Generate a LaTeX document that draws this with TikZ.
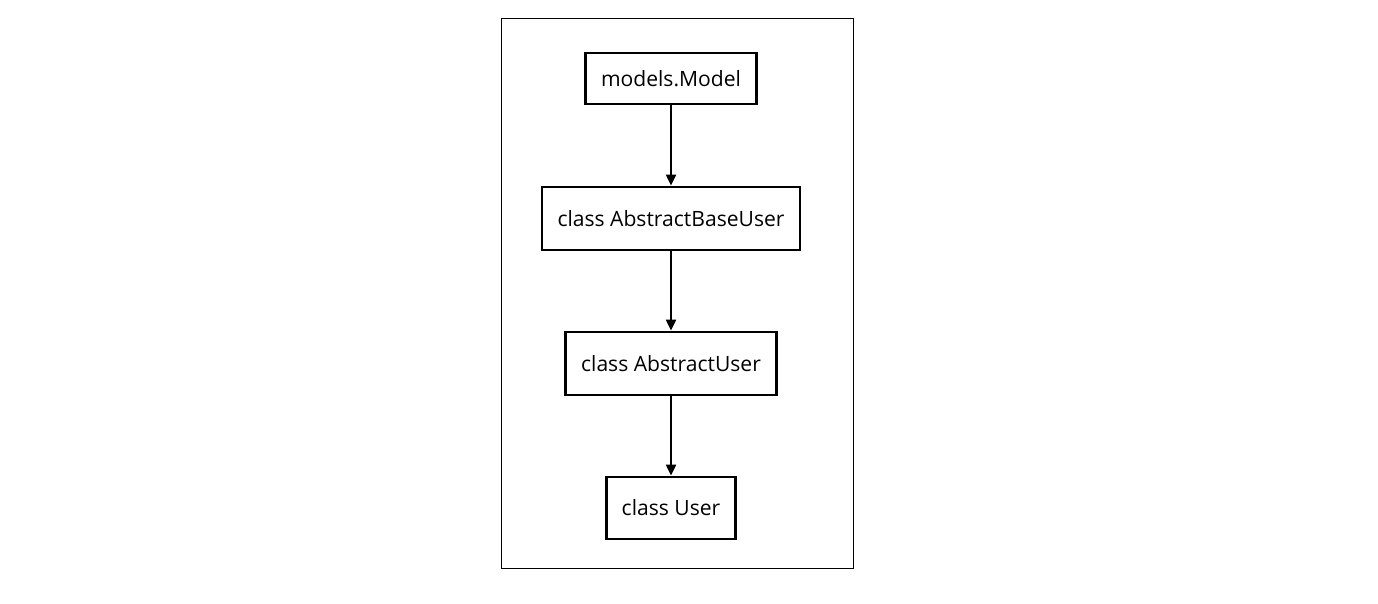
\documentclass[tikz,border=0pt]{standalone}
\usepackage{fontspec}
\setmainfont{Open Sans}
\usetikzlibrary{arrows.meta}
\tikzset{
    classbox/.style={draw, line width=1.6pt, inner sep=0pt, font=\fontsize{12}{14}\selectfont},
}
\begin{document}
\begin{tikzpicture}[>={Triangle[length=2.2mm,width=2mm]}]
                \useasboundingbox (0,0) rectangle (27.56,12.06);
                \draw[line width=0.5pt] (10.02,0.70) rectangle (17.06,11.70);

                \node[classbox, minimum width=3.42cm, minimum height=1.02cm] (model) at (13.42,10.49) {models.Model};
                \node[classbox, minimum width=5.16cm, minimum height=1.26cm] (baseuser) at (13.42,7.69) {class AbstractBaseUser};
                \node[classbox, minimum width=4.22cm, minimum height=1.26cm] (absuser) at (13.42,4.79) {class AbstractUser};
                \node[classbox, minimum width=2.58cm, minimum height=1.24cm] (user) at (13.42,1.90) {class User};

                \draw[->, line width=1.2pt] (model) to (baseuser);
                \draw[->, line width=1.2pt] (baseuser) to (absuser);
                \draw[->, line width=1.2pt] (absuser) to (user);
            \end{tikzpicture}
\end{document}
